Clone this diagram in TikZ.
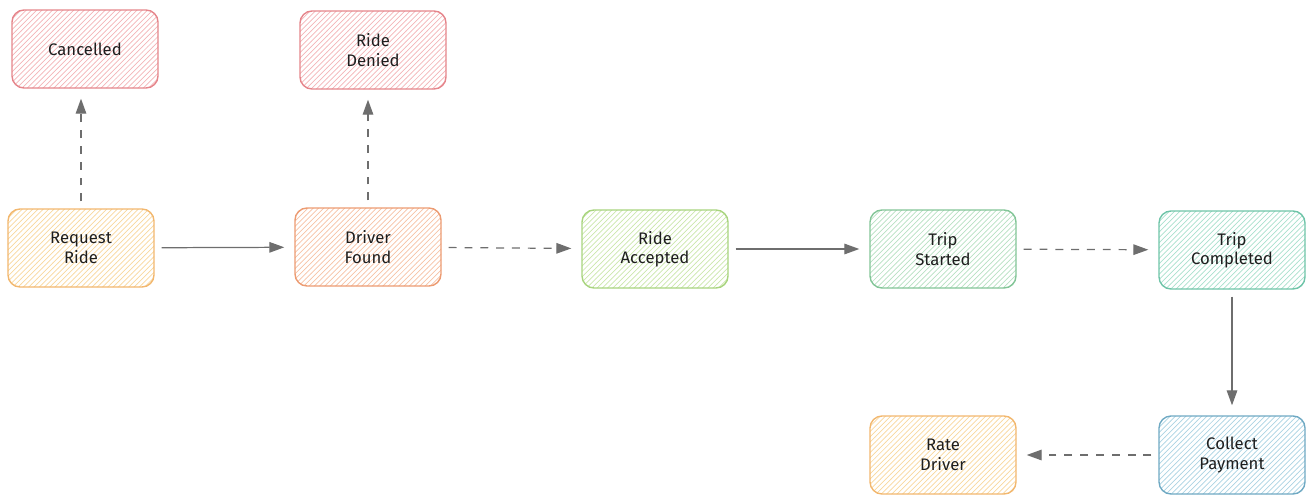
\documentclass[tikz,border=0pt]{standalone}
\usepackage{fontspec}
\setmainfont{Fira Sans}
\usetikzlibrary{patterns,arrows.meta}

\definecolor{ink}{HTML}{1E1E1E}
\definecolor{wire}{HTML}{6E6E6E}
\definecolor{redline}{HTML}{E5858B}
\definecolor{redhatch}{HTML}{F3B4B7}
\definecolor{yellowline}{HTML}{F2B76E}
\definecolor{yellowhatch}{HTML}{F8D79D}
\definecolor{orangeline}{HTML}{EC9B72}
\definecolor{orangehatch}{HTML}{F6C2A5}
\definecolor{limeline}{HTML}{A8D47E}
\definecolor{limehatch}{HTML}{CBE7AC}
\definecolor{greenline}{HTML}{82C597}
\definecolor{greenhatch}{HTML}{B7E0C2}
\definecolor{tealline}{HTML}{6EC4A8}
\definecolor{tealhatch}{HTML}{A9E0CD}
\definecolor{blueline}{HTML}{6FA9C3}
\definecolor{bluehatch}{HTML}{ABD3E2}

\begin{document}
\begin{tikzpicture}[
  state/.style={draw, rounded corners=0.24cm, line width=0.8pt, align=center,
    minimum width=2.92cm, minimum height=1.56cm, text=ink,
    font=\fontsize{9.5}{11}\selectfont, pattern=north east lines},
  flow/.style={draw=wire, line width=0.7pt, -{Triangle[length=8.5pt,width=6pt]},
    shorten <=0.14cm, shorten >=0.2cm},
  maybe/.style={flow, dash pattern=on 4.5pt off 4.5pt}
]
\useasboundingbox (0,0) rectangle (26.16,-9.9);

% dead ends
\node[state, draw=redline, pattern color=redhatch] (cancelled) at (1.70,-0.98) {Cancelled};
\node[state, draw=redline, pattern color=redhatch] (denied) at (7.46,-1.00) {Ride\\Denied};

% main path
\node[state, draw=yellowline, pattern color=yellowhatch] (request) at (1.62,-4.96) {Request\\Ride};
\node[state, draw=orangeline, pattern color=orangehatch] (found) at (7.36,-4.94) {Driver\\Found};
\node[state, draw=limeline, pattern color=limehatch] (accepted) at (13.10,-4.98) {Ride\\Accepted};
\node[state, draw=greenline, pattern color=greenhatch] (started) at (18.86,-4.98) {Trip\\Started};
\node[state, draw=tealline, pattern color=tealhatch] (completed) at (24.64,-5.00) {Trip\\Completed};
\node[state, draw=blueline, pattern color=bluehatch] (payment) at (24.64,-9.10) {Collect\\Payment};
\node[state, draw=yellowline, pattern color=yellowhatch] (rate) at (18.86,-9.10) {Rate\\Driver};

\draw[maybe] (request.north) -- (request.north |- cancelled.south);
\draw[flow] (request) -- (found);
\draw[maybe] (found.north) -- (found.north |- denied.south);
\draw[maybe] (found) -- (accepted);
\draw[flow] (accepted) -- (started);
\draw[maybe] (started) -- (completed);
\draw[flow] (completed) -- (payment);
\draw[maybe] (payment) -- (rate);
\end{tikzpicture}
\end{document}
